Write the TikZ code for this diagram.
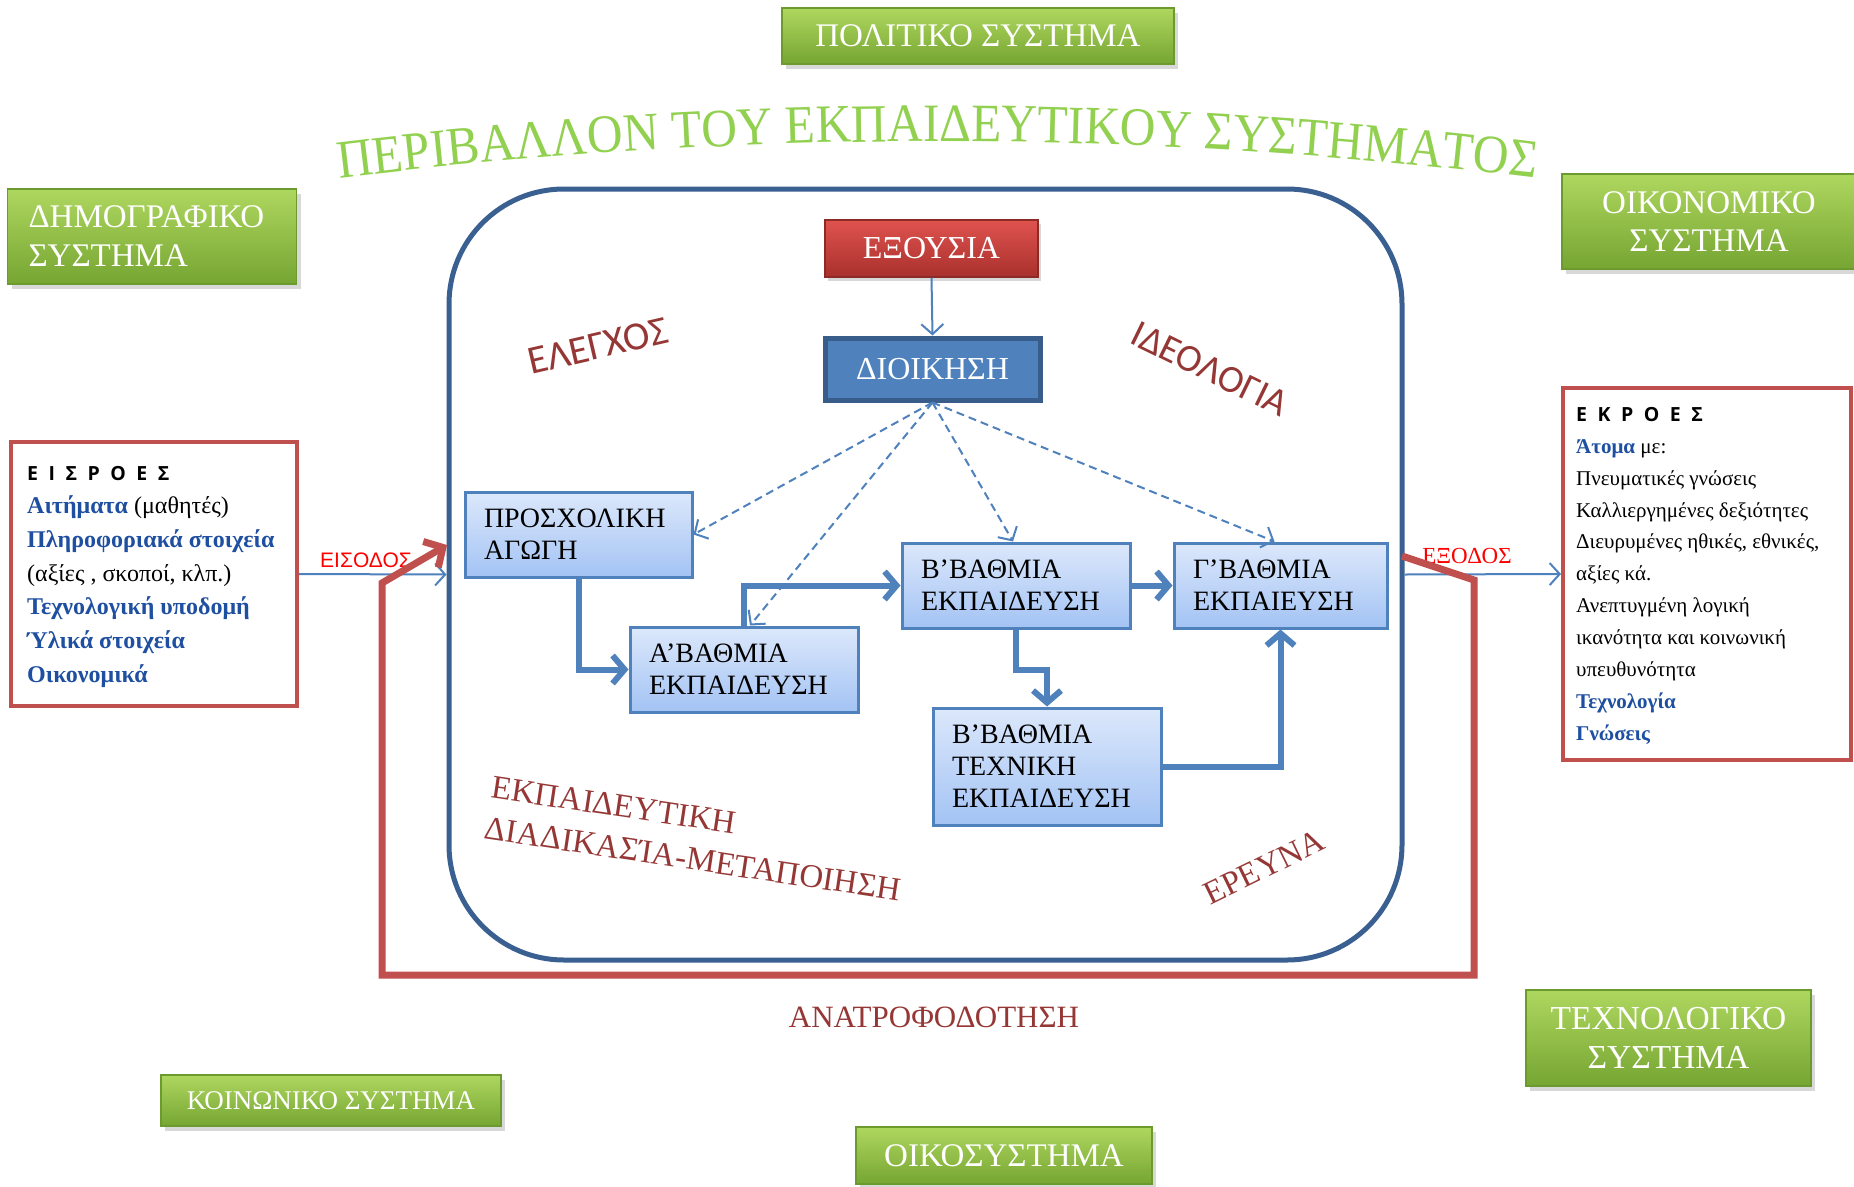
\documentclass[tikz,border=0pt]{standalone}
\usepackage{fontspec}
\setmainfont{Liberation Serif}
\newfontfamily\titlefont[FakeStretch=0.915]{Liberation Serif}
\newfontfamily\labelsans{Carlito}
\newfontfamily\arialfont{Liberation Sans}
\newfontfamily\headfont{Open Sans}
\usetikzlibrary{arrows.meta,shadows,decorations.text}

\definecolor{greentop}{HTML}{AED75F}
\definecolor{greenbot}{HTML}{76A532}
\definecolor{greenedge}{HTML}{6B9A2E}
\definecolor{redtop}{HTML}{E0534F}
\definecolor{redbot}{HTML}{A8302C}
\definecolor{rededge}{HTML}{8C2A26}
\definecolor{accblue}{HTML}{4F81BD}
\definecolor{darkblue}{HTML}{385D8A}
\definecolor{envblue}{HTML}{3A5F91}
\definecolor{boxtop}{HTML}{DCE8FB}
\definecolor{boxbot}{HTML}{A3C3F4}
\definecolor{labred}{HTML}{953735}
\definecolor{titlegreen}{HTML}{92D050}
\definecolor{fbred}{HTML}{C0504D}
\definecolor{wordblue}{HTML}{1F4FA0}
\definecolor{signalred}{HTML}{FF0000}

\newcommand\fsz[2]{\fontsize{#1}{#2}\selectfont}
\newcommand\hgap{\hspace{10.5pt}}
\newcommand\bluew[1]{{\bfseries\color{wordblue}#1}}

\begin{document}
\begin{tikzpicture}[x=1pt,y=-1pt,
  greenbox/.style={draw=greenedge, line width=1.5pt, top color=greentop, bottom color=greenbot,
    text=white, align=center, inner sep=0pt,
    drop shadow={opacity=0.3, shadow xshift=4pt, shadow yshift=-5pt}},
  redbox/.style={draw=rededge, line width=1.5pt, top color=redtop, bottom color=redbot,
    text=white, inner sep=0pt, drop shadow={opacity=0.3, shadow xshift=3pt, shadow yshift=-4pt}},
  levelbox/.style={draw=accblue, line width=3pt, top color=boxtop, bottom color=boxbot,
    align=left, inner xsep=19pt, inner ysep=0pt, font=\fsz{28}{32}},
  iobox/.style={draw=fbred, line width=4pt, fill=white, inner sep=0pt},
  ioline/.style={anchor=base west, inner sep=0pt, font=\fsz{24}{24}},
  outline/.style={anchor=base west, inner sep=0pt, font=\fsz{21}{21}},
  iohead/.style={anchor=base west, inner sep=0pt, font=\headfont\bfseries\fsz{19.5}{19.5}},
  thinarrow/.style={draw=accblue, line width=2pt, -{Straight Barb[length=10pt,width=22pt]}},
  dasharrow/.style={thinarrow, dash pattern=on 8pt off 5pt},
  thickarrow/.style={draw=accblue, line width=6pt, line join=miter,
    -{Straight Barb[length=12pt,width=28pt]}},
  fbline/.style={draw=fbred, line width=7pt, line join=miter,
    -{Straight Barb[length=14pt,width=30pt]}},
  seriflabel/.style={text=labred, inner sep=0pt, font=\fsz{33}{33}},
  sanslabel/.style={text=labred, inner sep=0pt, font=\labelsans\fsz{40}{40}}
]
\fill[white] (0,0) rectangle (1854,1186);
\useasboundingbox (0,0) rectangle (1854,1186);

% surrounding systems
\node[greenbox, minimum width=392pt, minimum height=56pt, font=\fsz{33}{36}] (pol) at (978,36) {ΠΟΛΙΤΙΚΟ ΣΥΣΤΗΜΑ};
\node[greenbox, minimum height=95pt, text width=247pt, inner xsep=21pt, align=left, font=\fsz{33}{39}] (dem) at (152,236.5) {ΔΗΜΟΓΡΑΦΙΚΟ\\ΣΥΣΤΗΜΑ};
\node[greenbox, minimum width=294pt, minimum height=95pt, font=\fsz{33}{38}] (eco) at (1709,221.5) {ΟΙΚΟΝΟΜΙΚΟ\\ΣΥΣΤΗΜΑ};
\node[greenbox, minimum width=285pt, minimum height=96pt, font=\fsz{33.5}{39}] (tec) at (1668.5,1038) {ΤΕΧΝΟΛΟΓΙΚΟ\\ΣΥΣΤΗΜΑ};
\node[greenbox, minimum width=340pt, minimum height=51pt, font=\fsz{27}{30}] (soc) at (331,1100.5) {ΚΟΙΝΩΝΙΚΟ ΣΥΣΤΗΜΑ};
\node[greenbox, minimum width=296pt, minimum height=57pt, font=\fsz{33}{38}] (ecs) at (1004,1155.5) {ΟΙΚΟΣΥΣΤΗΜΑ};

% arched heading
\path[decorate, decoration={text along path, text align=center, text color=titlegreen,
  text={|\titlefont\fsz{54}{54}|ΠΕΡΙΒΑΛΛΟΝ ΤΟΥ ΕΚΠΑΙΔΕΥΤΙΚΟΥ ΣΥΣΤΗΜΑΤΟΣ}}]
  (237,192) .. controls (703.7,124.5) and (1170.3,124.5) .. (1637,192);

% the educational system
\node[draw=envblue, line width=5pt, rounded corners=115pt, minimum width=953pt,
  minimum height=771pt, inner sep=0pt] (env) at (925.5,574.5) {};

\node[redbox, minimum width=213pt, minimum height=57pt, font=\fsz{32}{36}] (exo) at (931.5,248.5) {ΕΞΟΥΣΙΑ};
\node[draw=darkblue, line width=5pt, fill=accblue, text=white, inner sep=0pt,
  minimum width=215pt, minimum height=62pt, font=\fsz{32}{36}] (dio) at (932.5,369) {ΔΙΟΙΚΗΣΗ};

\node[levelbox, text width=189pt, minimum height=85pt] (pro) at (578.5,534.5) {ΠΡΟΣΧΟΛΙΚΗ\\ΑΓΩΓΗ};
\node[levelbox, text width=190pt, minimum height=85pt] (pri) at (744,669.5) {Α’ΒΑΘΜΙΑ\\ΕΚΠΑΙΔΕΥΣΗ};
\node[levelbox, text width=190pt, minimum height=85pt] (sec) at (1016,585.5) {Β’ΒΑΘΜΙΑ\\ΕΚΠΑΙΔΕΥΣΗ};
\node[levelbox, text width=175pt, minimum height=85pt] (ter) at (1280.5,585.5) {Γ’ΒΑΘΜΙΑ\\ΕΚΠΑΙΕΥΣΗ};
\node[levelbox, text width=190pt, minimum height=117pt] (tech) at (1047,766.5) {Β’ΒΑΘΜΙΑ\\ΤΕΧΝΙΚΗ\\ΕΚΠΑΙΔΕΥΣΗ};

% authority and administration
\draw[thinarrow] (exo.south) -- (dio.north);
\draw[dasharrow] (dio.south) -- (pro.east);
\draw[dasharrow] (dio.south) -- ([xshift=6pt]pri.north);
\draw[dasharrow] (dio.south) -- ([xshift=-3pt]sec.north);
\draw[dasharrow] (dio.south) -- ([xshift=-6pt]ter.north);

% flow between levels
\draw[thickarrow] (pro.south) -- (pro.south |- pri.west) -- (pri.west);
\draw[thickarrow] (pri.north) -- (pri.north |- sec.west) -- (sec.west);
\draw[thickarrow] (sec.east) -- (ter.west);
\draw[thickarrow] (sec.south) -- ++(0,40) -| (tech.north);
\draw[thickarrow] (tech.east) -| (ter.south);

% labels inside the system
\node[sanslabel, rotate=13] (ctl) at (598,346) {ΕΛΕΓΧΟΣ};
\node[sanslabel, rotate=-26, font=\labelsans\fsz{38.5}{38.5}] (ide) at (1210,369) {ΙΔΕΟΛΟΓΙΑ};
\node[seriflabel, rotate=-8.5] (proc1) at (614,805) {ΕΚΠΑΙΔΕΥΤΙΚΗ};
\node[seriflabel, rotate=-8.5] (proc2) at (693,859) {ΔΙΑΔΙΚΑΣΊΑ-ΜΕΤΑΠΟΙΗΣΗ};
\node[seriflabel, rotate=26] (res) at (1264,867) {ΕΡΕΥΝΑ};
\node[seriflabel, font=\fsz{31}{31}] (fb) at (934,1017) {ΑΝΑΤΡΟΦΟΔΟΤΗΣΗ};

% inputs
\node[iobox, minimum width=286pt, minimum height=264pt] (inbox) at (154,574) {};
\node[iohead] (inh) at (27,480) {Ε\hgap Ι\hgap Σ\hgap Ρ\hgap Ο\hgap Ε\hgap Σ};
\node[ioline] (in1) at (27,513.7) {\bluew{Αιτήματα} (μαθητές)};
\node[ioline] (in2) at (27,547.4) {\bluew{Πληροφοριακά στοιχεία}};
\node[ioline] (in3) at (27,581) {(αξίες , σκοποί, κλπ.)};
\node[ioline] (in4) at (27,614.8) {\bluew{Τεχνολογική υποδομή}};
\node[ioline] (in5) at (27,648.5) {\bluew{Ύλικά στοιχεία}};
\node[ioline] (in6) at (27,682.2) {\bluew{Οικονομικά}};

% outputs
\node[iobox, minimum width=288pt, minimum height=372pt] (outbox) at (1707,574) {};
\node[iohead] (outh) at (1576,421) {Ε\hgap Κ\hgap Ρ\hgap Ο\hgap Ε\hgap Σ};
\node[outline] (o1) at (1576,453) {\bluew{Άτομα} με:};
\node[outline] (o2) at (1576,485) {Πνευματικές γνώσεις};
\node[outline] (o3) at (1576,517) {Καλλιεργημένες δεξιότητες};
\node[outline] (o4) at (1576,548) {Διευρυμένες ηθικές, εθνικές,};
\node[outline] (o5) at (1576,580) {αξίες κά.};
\node[outline] (o6) at (1576,612) {Ανεπτυγμένη λογική};
\node[outline] (o7) at (1576,644) {ικανότητα και κοινωνική};
\node[outline] (o8) at (1576,676) {υπευθυνότητα};
\node[outline] (o9) at (1576,708) {\bluew{Τεχνολογία}};
\node[outline] (o10) at (1576,740) {\bluew{Γνώσεις}};

% entry and exit
\draw[thinarrow] (inbox.east) -- (env.west);
\draw[thinarrow] (env.east) -- (outbox.west);
\node[text=signalred, inner sep=0pt, font=\arialfont\fsz{21}{21}] (inlab) at (366,560) {ΕΙΣΟΔΟΣ};
\node[text=signalred, inner sep=0pt, font=\fsz{23}{23}] (outlab) at (1467,556) {ΕΞΟΔΟΣ};

% feedback loop
\coordinate (fbout) at (1402,556);
\coordinate (fbr1) at (1474,580);
\coordinate (fbr2) at (1474,975);
\coordinate (fbl2) at (382,975);
\coordinate (fbl1) at (382,583);
\coordinate (fbin) at (447,545);
\draw[fbline] (fbout) -- (fbr1) -- (fbr2) -- (fbl2) -- (fbl1) -- (fbin);
\end{tikzpicture}
\end{document}
